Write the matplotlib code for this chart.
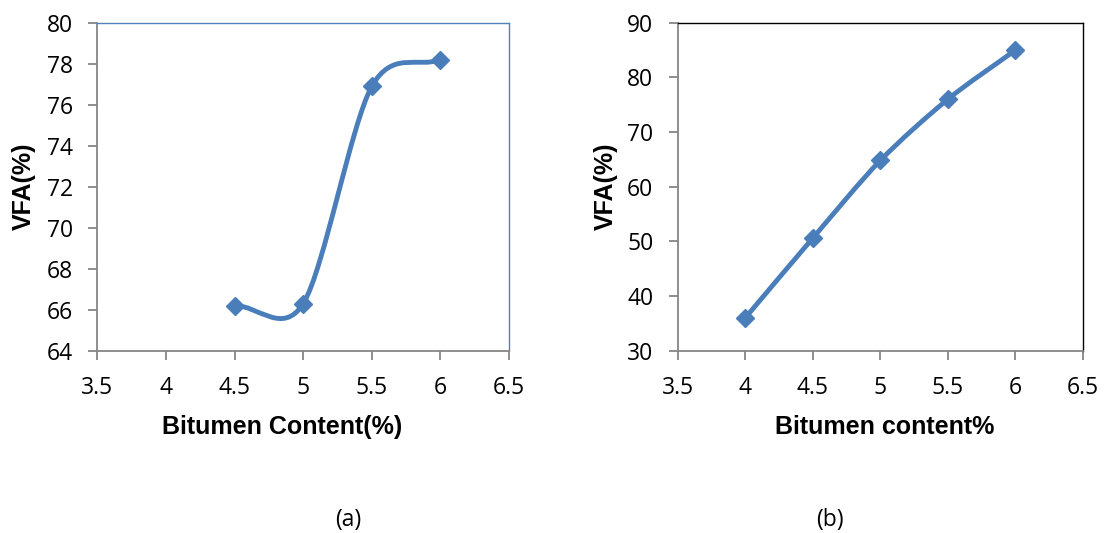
import matplotlib
matplotlib.use('Agg')
import matplotlib.pyplot as plt
import numpy as np
from matplotlib.path import Path
from matplotlib.patches import PathPatch

# panel (a)
bitumen_a = [4.5, 5.0, 5.5, 6.0]
vfa_a = [66.2, 66.3, 76.9, 78.2]
# panel (b)
bitumen_b = [4.0, 4.5, 5.0, 5.5, 6.0]
vfa_b = [36.0, 50.6, 64.8, 76.0, 85.0]

xticks = [3.5, 4, 4.5, 5, 5.5, 6, 6.5]
xticklabels = ['3.5', '4', '4.5', '5', '5.5', '6', '6.5']
yticks_a = [64, 66, 68, 70, 72, 74, 76, 78, 80]
yticks_b = [30, 40, 50, 60, 70, 80, 90]

LINE_COLOR = '#4A7EBB'
AXIS_GRAY = '#868686'
TICK_FONT = 'Open Sans'
LABEL_FONT = 'Liberation Sans'


def smooth_path(xs, ys, k=0.15, k_end=1.0 / 3):
    """
    Excel-like smoothed line: cubic bezier segments through the data points.
    """
    pts = np.column_stack([xs, ys]).astype(float)
    n = len(pts)
    verts = [pts[0]]
    codes = [Path.MOVETO]
    for i in range(n - 1):
        p1 = pts[i]
        p2 = pts[i + 1]
        # first control point
        if i > 0:
            c1 = p1 + (p2 - pts[i - 1]) * k
        else:
            c1 = p1 + (p2 - p1) * k_end
        # second control point
        if i + 2 < n:
            c2 = p2 - (pts[i + 2] - p1) * k
        else:
            c2 = p2 - (p2 - p1) * k_end
        verts += [c1, c2, p2]
        codes += [Path.CURVE4] * 3
    return Path(verts, codes)


def setup_axes(ax, yticks, frame_color):
    ax.set_xlim(3.5, 6.5)
    ax.set_ylim(yticks[0], yticks[-1])
    ax.set_xticks(xticks)
    ax.set_xticklabels(xticklabels)
    ax.set_yticks(yticks)
    for side in ['left', 'bottom']:
        ax.spines[side].set_color(AXIS_GRAY)
        ax.spines[side].set_linewidth(1.3)
    for side in ['top', 'right']:
        ax.spines[side].set_color(frame_color)
        ax.spines[side].set_linewidth(1.0)
    ax.tick_params(direction='out', length=6.5, width=1.3, color=AXIS_GRAY,
                   labelsize=16.5, labelcolor='black')
    ax.tick_params(axis='x', pad=12)
    ax.tick_params(axis='y', pad=11)
    for lbl in ax.get_xticklabels() + ax.get_yticklabels():
        lbl.set_family(TICK_FONT)


def draw_series(ax, xs, ys):
    patch = PathPatch(smooth_path(xs, ys), facecolor='none', edgecolor=LINE_COLOR,
                      lw=3.5, capstyle='round', joinstyle='round', zorder=3)
    ax.add_patch(patch)
    ax.plot(xs, ys, linestyle='none', marker='D', markersize=9.5,
            color=LINE_COLOR, zorder=4, clip_on=False)


fig = plt.figure(figsize=(11.1, 5.33), dpi=100)
ax_a = fig.add_axes([0.0878, 0.342, 0.3708, 0.6154])
ax_b = fig.add_axes([0.6105, 0.342, 0.3652, 0.6154])

label_kw = dict(family=LABEL_FONT, fontweight='bold', fontsize=18)

setup_axes(ax_a, yticks_a, '#4F81BD')
draw_series(ax_a, bitumen_a, vfa_a)
ax_a.set_xlabel('Bitumen Content(%)', **label_kw)
ax_a.set_ylabel('VFA(%)', **label_kw)
ax_a.xaxis.set_label_coords(0.4496, -0.195)
ax_a.yaxis.set_label_coords(-0.150, 0.5)

setup_axes(ax_b, yticks_b, 'black')
draw_series(ax_b, bitumen_b, vfa_b)
ax_b.set_xlabel('Bitumen content%', **label_kw)
ax_b.set_ylabel('VFA(%)', **label_kw)
ax_b.xaxis.set_label_coords(0.5115, -0.195)
ax_b.yaxis.set_label_coords(-0.147, 0.5)

fig.text(348 / 1110, 1 - 520 / 533, '(a)', family=TICK_FONT, fontsize=16.5,
         ha='center', va='center')
fig.text(830 / 1110, 1 - 520 / 533, '(b)', family=TICK_FONT, fontsize=16.5,
         ha='center', va='center')

fig.savefig('out.png', dpi=100, facecolor='white')
